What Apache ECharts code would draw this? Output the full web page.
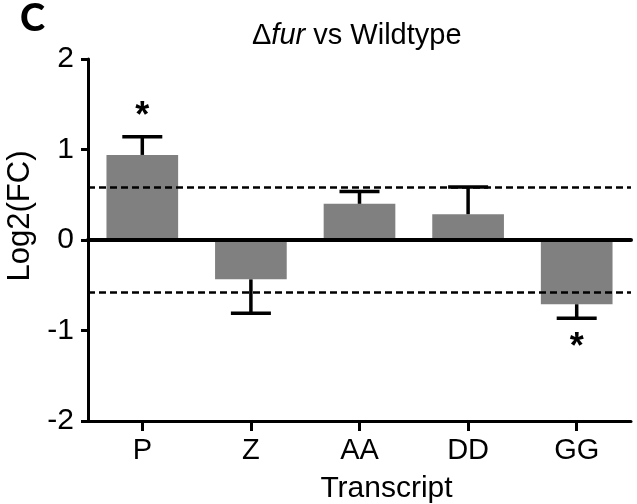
<!DOCTYPE html>
<html>
<head>
<meta charset="utf-8">
<script src="https://cdn.jsdelivr.net/npm/echarts@6/dist/echarts.min.js"></script>
<style>
  html, body { margin: 0; padding: 0; background: #fff; }
  #chart { width: 637px; height: 504px; }
</style>
</head>
<body>
<div id="chart"></div>
<script>
// 数据
var transcripts = ['P', 'Z', 'AA', 'DD', 'GG'];
var log2FC = [0.94, -0.435, 0.40, 0.285, -0.71];
var sem = [0.20, 0.375, 0.135, 0.30, 0.155];
var significant = [true, false, false, false, true];
var threshold = 0.585;
var yTicks = [-2, -1, 0, 1, 2];

var chart = echarts.init(document.getElementById('chart'));
var font = 'Liberation Sans, Arial, sans-serif';

var errData = log2FC.map(function (v, i) {
    return [i, v, v + (v >= 0 ? sem[i] : -sem[i]), significant[i] ? 1 : 0];
});

var option = {
    animation: false,
    textStyle: { fontFamily: font, color: '#000' },
    title: {
        text: '{n|Δ}{i|fur}{n| vs Wildtype}',
        left: 247,
        top: 16,
        textStyle: {
            rich: {
                n: { fontFamily: font, fontSize: 29, fontWeight: 'normal', color: '#000' },
                i: { fontFamily: font, fontSize: 29, fontWeight: 'normal', fontStyle: 'italic', color: '#000' }
            }
        }
    },
    graphic: [{
        type: 'text',
        left: 20,
        top: 0,
        style: { text: 'C', fontFamily: 'Lato, Open Sans, sans-serif', fontWeight: 900, fontSize: 38, fill: '#000' }
    }],
    grid: { left: 88, right: 6, top: 59, bottom: 83, outerBoundsMode: 'none' },
    xAxis: [{
        type: 'category',
        data: transcripts,
        axisLine: { onZero: true, lineStyle: { color: '#000', width: 4 } },
        axisTick: { show: false },
        axisLabel: { show: false },
        z: 5
    }, {
        type: 'category',
        data: transcripts,
        position: 'bottom',
        axisLine: { onZero: false, lineStyle: { color: '#000', width: 3 } },
        axisTick: { show: true, alignWithLabel: true, length: 10, lineStyle: { color: '#000', width: 3 } },
        axisLabel: { color: '#000', fontSize: 29, margin: 15 },
        name: 'Transcript',
        nameLocation: 'middle',
        nameGap: 53,
        nameTextStyle: { color: '#000', fontSize: 30, padding: [0, 0, 0, 54] }
    }],
    yAxis: {
        type: 'value',
        min: -2,
        max: 2,
        interval: 1,
        splitLine: { show: false },
        axisLine: { show: true, lineStyle: { color: '#000', width: 3 } },
        axisTick: { show: true, length: 7, lineStyle: { color: '#000', width: 3 } },
        axisLabel: { color: '#000', fontSize: 30, margin: 14,
            formatter: function (v) { return yTicks.indexOf(v) >= 0 ? String(v) : ''; } },
        name: 'Log2(FC)',
        nameLocation: 'middle',
        nameGap: 44,
        nameTextStyle: { color: '#000', fontSize: 31, padding: [0, 0, 0, 48] }
    },
    series: [{
        type: 'bar',
        xAxisIndex: 0,
        data: log2FC,
        barWidth: '66%',
        itemStyle: { color: '#808080' },
        markLine: {
            silent: true,
            symbol: 'none',
            label: { show: false },
            lineStyle: { color: '#000', type: [7, 4], width: 2.5 },
            data: [{ yAxis: threshold }, { yAxis: -threshold }]
        }
    }, {
        type: 'custom',
        xAxisIndex: 0,
        data: errData,
        z: 4,
        renderItem: function (params, api) {
            var p0 = api.coord([api.value(0), api.value(1)]);
            var p1 = api.coord([api.value(0), api.value(2)]);
            var up = api.value(2) >= api.value(1);
            var half = 20;
            var st = { stroke: '#000', lineWidth: 3.5 };
            var children = [
                { type: 'line', shape: { x1: p0[0], y1: p0[1], x2: p1[0], y2: p1[1] }, style: st },
                { type: 'line', shape: { x1: p1[0] - half, y1: p1[1], x2: p1[0] + half, y2: p1[1] }, style: st }
            ];
            if (api.value(3)) {
                children.push({
                    type: 'text',
                    style: {
                        text: '*',
                        x: p1[0],
                        y: up ? p1[1] - 20 : p1[1] + 30,
                        align: 'center',
                        verticalAlign: 'middle',
                        fontFamily: font,
                        fontWeight: 'bold',
                        fontSize: 36,
                        fill: '#000'
                    }
                });
            }
            return { type: 'group', children: children };
        }
    }]
};

chart.setOption(option);
</script>
</body>
</html>
